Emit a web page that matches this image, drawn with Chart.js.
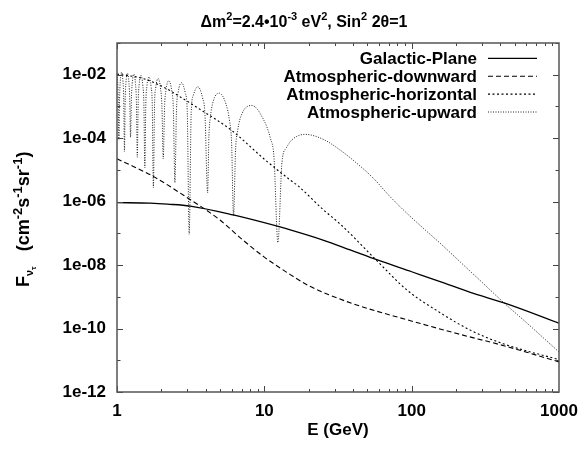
<!DOCTYPE html>
<html><head><meta charset="utf-8">
<script src="https://cdn.jsdelivr.net/npm/chart.js@4.4.1/dist/chart.umd.min.js"></script>
<style>html,body{margin:0;padding:0;background:#fff}</style>
</head><body>
<canvas id="c" width="579" height="451"></canvas>
<script>
// ---- data (fluxes stored as log10 values) ----
const seriesLabels = ['Galactic-Plane','Atmospheric-downward','Atmospheric-horizontal','Atmospheric-upward'];

const galacticE   = [1, 1.68, 2.2, 3.14, 6.15, 12.6, 15, 25, 38.2, 57.9, 100, 156, 250, 429, 1000];
const galacticLog = [-6.03, -6.05, -6.08, -6.14, -6.42, -6.79, -6.89, -7.21, -7.52, -7.83, -8.21, -8.52, -8.86, -9.2, -9.83];

const downwardE   = [1, 1.29, 1.79, 3.15, 3.9, 5, 7.2, 10, 12.8, 15, 20, 28, 42.4, 92.5, 200, 429, 1000];
const downwardLog = [-4.65, -4.89, -5.22, -5.94, -6.22, -6.58, -7.22, -7.75, -8.09, -8.3, -8.65, -8.95, -9.26, -9.72, -10.15, -10.55, -11.05];

const horizontalE   = [1, 1.5, 2.09, 2.8, 3.57, 5.98, 10.1, 15, 16.9, 25.2, 32.6, 58, 92.5, 156, 250, 418, 1000];
const horizontalLog = [-1.98, -2.12, -2.4, -2.75, -3.06, -3.75, -4.68, -5.32, -5.5, -6.26, -6.7, -7.86, -8.78, -9.5, -10.05, -10.48, -10.98];

const upwardE = [1.0, 1.009, 1.0194, 1.03,
  1.0408, 1.0519, 1.0748, 1.0987, 1.111, 1.1236,
  1.1366, 1.1498, 1.1771, 1.2059, 1.2207, 1.236,
  1.2516, 1.2677, 1.3011, 1.3362, 1.3545, 1.3733,
  1.3927, 1.4126, 1.4541, 1.4982, 1.5212, 1.545,
  1.5695, 1.5948, 1.648, 1.7048, 1.7347, 1.7657,
  1.7978, 1.8311, 1.9015, 1.9776, 2.018, 2.06,
  2.1038, 2.1496, 2.2473, 2.3543, 2.4117, 2.472,
  2.5354, 2.6021, 2.7467, 2.9082, 2.9964, 3.09,
  3.1897, 3.296, 3.5314, 3.8031, 3.9552, 4.12,
  4.208, 4.2991, 4.4945, 4.944, 5.4933, 5.8165, 5.993, 6.18,
  6.379, 6.592, 7.0629, 8.24, 9.888, 10.987, 11.633, 12.36,
  13.18, 14.13, 15.0, 16.5, 18.9, 25.2, 32.6, 42.4, 54.9, 71.3, 92.5, 120, 156, 224, 300, 430, 600, 1000];
const upwardLog = [-1.99, -2.2, -2.73, -4.06,
  -2.76, -2.23, -1.92, -2.24, -2.77, -4.42,
  -2.79, -2.26, -1.95, -2.27, -2.8, -3.97,
  -2.82, -2.29, -1.98, -2.31, -2.84, -4.6,
  -2.86, -2.33, -2.02, -2.35, -2.88, -4.93,
  -2.9, -2.37, -2.07, -2.39, -2.93, -5.56,
  -2.95, -2.42, -2.12, -2.45, -2.99, -4.65,
  -3.01, -2.49, -2.19, -2.52, -3.06, -5.4,
  -3.08, -2.55, -2.25, -2.58, -3.12, -7.03,
  -3.18, -2.65, -2.38, -2.72, -3.27, -5.72,
  -3.92, -3.36, -2.84, -2.58, -2.93, -3.48, -4.12, -6.45,
  -4.37, -3.75, -3.22, -2.97, -3.42, -4.0, -4.62, -7.29,
  -4.75, -4.3, -4.11, -3.95, -3.88, -4.04, -4.37, -4.79, -5.26, -5.84, -6.36, -6.84, -7.31, -7.99, -8.54, -9.22, -9.81, -10.74];

const xTickValues = [1, 10, 100, 1000];
const xTickLabels = ['1', '10', '100', '1000'];
const yTickValues = [1e-12, 1e-10, 1e-8, 1e-6, 1e-4, 1e-2];
const yTickLabels = ['1e-12', '1e-10', '1e-08', '1e-06', '1e-04', '1e-02'];
const xTitle = 'E (GeV)';
// [text, kind] kind: 0 normal, 1 superscript
const titleParts = [['\u0394m',0],['2',1],['=2.4\u202210',0],['-3',1],[' eV',0],['2',1],[', Sin',0],['2',1],[' 2\u03b8=1',0]];
// [text, kind] kind: 0 normal, 1 sup, 2 sub, 3 subsub
const yTitleParts = [['F',0],['\u03bd',2],['\u03c4',3],['   (cm',0],['-2',1],['s',0],['-1',1],['sr',0],['-1',1],[')',0]];

// ---- chart ----
const FONT = "'Liberation Sans', Arial, Helvetica, sans-serif";
const pts = (xs, ls) => xs.map((e, i) => ({x: e, y: Math.pow(10, ls[i])}));

const styles = [
  {borderDash: [], borderWidth: 1.3, borderColor: '#000'},
  {borderDash: [5, 3], borderWidth: 1.1, borderColor: '#000'},
  {borderDash: [2, 2.5], borderWidth: 1.1, borderColor: '#000'},
  {borderDash: [1, 1.5], borderWidth: 1, borderColor: '#222'}
];
const seriesData = [pts(galacticE, galacticLog), pts(downwardE, downwardLog), pts(horizontalE, horizontalLog), pts(upwardE, upwardLog)];

const decor = {
  id: 'decor',
  afterDraw(chart) {
    const {ctx, chartArea: a, scales: {x, y}} = chart;
    ctx.save();
    // inward ticks
    ctx.strokeStyle = '#444'; ctx.lineWidth = 1;
    ctx.beginPath();
    for (let d = 0; d < 3; d++) {
      for (let m = 1; m <= 9; m++) {
        const v = m * Math.pow(10, d);
        const px = Math.round(x.getPixelForValue(v)) + 0.5;
        const L = m === 1 ? 6 : 3;
        ctx.moveTo(px, a.bottom); ctx.lineTo(px, a.bottom - L);
        ctx.moveTo(px, a.top); ctx.lineTo(px, a.top + L);
      }
    }
    for (let e = -12; e <= -1; e++) {
      const py = Math.round(y.getPixelForValue(Math.pow(10, e))) + 0.5;
      const L = (e % 2 === 0) ? 6 : 3.5;
      ctx.moveTo(a.left, py); ctx.lineTo(a.left + L, py);
      ctx.moveTo(a.right, py); ctx.lineTo(a.right - L, py);
    }
    ctx.stroke();
    // frame
    ctx.strokeStyle = '#555'; ctx.lineWidth = 1.5;
    ctx.strokeRect(a.left, a.top, a.right - a.left, a.bottom - a.top);

    // legend
    ctx.fillStyle = '#000';
    ctx.font = 'bold 17px ' + FONT;
    ctx.textAlign = 'right'; ctx.textBaseline = 'alphabetic';
    chart.data.datasets.forEach((ds, i) => {
      const base = 64 + i * 17.9;
      ctx.fillText(ds.label, 477, base);
      ctx.save();
      ctx.strokeStyle = ds.borderColor; ctx.lineWidth = ds.borderWidth;
      ctx.setLineDash(ds.borderDash);
      ctx.beginPath(); ctx.moveTo(488, base - 5.7); ctx.lineTo(537, base - 5.7); ctx.stroke();
      ctx.restore();
    });

    // title with superscripts
    const tf = 'bold 16px ' + FONT, sf = 'bold 11px ' + FONT;
    let tw = 0;
    titleParts.forEach(([t, k]) => { ctx.font = k ? sf : tf; tw += ctx.measureText(t).width; });
    let tx = 304 - tw / 2;
    ctx.textAlign = 'left';
    titleParts.forEach(([t, k]) => {
      ctx.font = k ? sf : tf;
      ctx.fillText(t, tx, k ? 20 : 26.5);
      tx += ctx.measureText(t).width;
    });

    // y axis title (rotated)
    ctx.save();
    ctx.translate(28.5, 287);
    ctx.rotate(-Math.PI / 2);
    const fonts = ['bold 18px ' + FONT, 'bold 13px ' + FONT, 'bold 11px ' + FONT, 'bold 8px ' + FONT];
    const offs = [0, -7, 4, 7];
    let yx = 0;
    yTitleParts.forEach(([t, k]) => {
      ctx.font = fonts[k];
      ctx.fillText(t, yx, offs[k]);
      yx += ctx.measureText(t).width;
    });
    ctx.restore();
    ctx.restore();
  }
};

new Chart(document.getElementById('c'), {
  type: 'line',
  data: {
    datasets: seriesLabels.map((lab, i) => Object.assign({
      label: lab, data: seriesData[i], pointRadius: 0, fill: false,
      cubicInterpolationMode: 'monotone'
    }, styles[i]))
  },
  options: {
    responsive: false, animation: false,
    layout: {padding: {top: 43, right: 20, left: 0, bottom: 0}},
    plugins: {legend: {display: false}, tooltip: {enabled: false}, title: {display: false}},
    scales: {
      x: {
        type: 'logarithmic', min: 1, max: 1000,
        afterFit(s) { s.height = 59; s.paddingLeft = 0; s.paddingRight = 0; },
        afterBuildTicks(s) { s.ticks = xTickValues.map(v => ({value: v})); },
        ticks: {callback: (v, i) => xTickLabels[i], font: {family: FONT, size: 17, weight: 'bold'}, color: '#000', padding: 9, maxRotation: 0, autoSkip: false},
        grid: {display: false, drawTicks: false},
        border: {display: false},
        title: {display: true, text: xTitle, font: {family: FONT, size: 17, weight: 'bold'}, color: '#000', padding: {top: 0, bottom: 10}}
      },
      y: {
        type: 'logarithmic', min: 1e-12, max: 1e-1,
        afterFit(s) { s.width = 117; s.paddingTop = 0; s.paddingBottom = 0; },
        afterBuildTicks(s) { s.ticks = yTickValues.map(v => ({value: v})); },
        ticks: {callback: (v, i) => yTickLabels[i], font: {family: FONT, size: 17, weight: 'bold'}, color: '#000', padding: 11, autoSkip: false},
        grid: {display: false, drawTicks: false},
        border: {display: false}
      }
    }
  },
  plugins: [decor]
});
</script>
</body></html>
